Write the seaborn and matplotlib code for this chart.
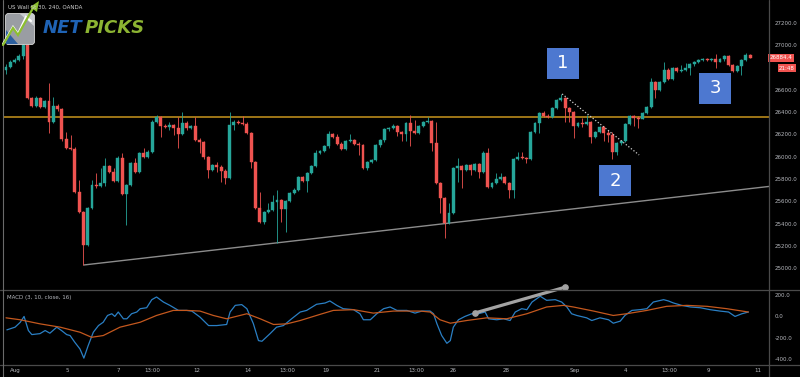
import numpy as np
import pandas as pd
import matplotlib
matplotlib.use("Agg")
import matplotlib.pyplot as plt
from matplotlib.patches import Rectangle, FancyBboxPatch, Polygon
import seaborn as sns

# US Wall St 30, 240 min candles (OANDA)
first_open = 26777
closes = [
    26803, 26848, 26866, 26902, 27000, 26526, 26454, 26526, 26445, 26499,
    26311, 26454, 26427, 26159, 26078, 26069, 25685, 25506, 25210, 25541,
    25747, 25738, 25765, 25917, 25864, 25783, 25989, 25667, 25747, 25944,
    25864, 26034, 25998, 26043, 26311, 26356, 26275, 26266, 26284, 26257,
    26204, 26302, 26257, 26275, 26150, 26132, 25998, 25882, 25926, 25908,
    25873, 25810, 26284, 26311, 26302, 26293, 26213, 25953, 25541, 25416,
    25506, 25524, 25595, 25613, 25532, 25604, 25676, 25703, 25819, 25783,
    25855, 25917, 26034, 26052, 26096, 26204, 26177, 26114, 26069, 26141,
    26150, 26114, 26105, 25899, 25953, 25971, 26105, 26150, 26248, 26257,
    26275, 26222, 26204, 26302, 26231, 26213, 26275, 26311, 26320, 26123,
    25765, 25631, 25407, 25497, 25899, 25917, 25882, 25926, 25882, 25935,
    25864, 26034, 25729, 25765, 25801, 25819, 25765, 25703, 25980, 25998,
    25989, 25980, 26222, 26302, 26392, 26365, 26356, 26436, 26508, 26526,
    26436, 26401, 26275, 26302, 26293, 26311, 26177, 26222, 26266, 26213,
    26195, 26043, 26123, 26141, 26293, 26365, 26347, 26338, 26392, 26445,
    26669, 26598, 26669, 26777, 26696, 26794, 26768, 26777, 26794, 26830,
    26848, 26866, 26875, 26866, 26875, 26848, 26875, 26902, 26821, 26768,
    26812, 26866, 26911, 26884,
]
highs = [
    26830, 26866, 26884, 26920, 27045, 27027, 26535, 26544, 26535, 26508,
    26660, 26535, 26472, 26436, 26222, 26195, 26087, 25792, 25515, 25550,
    25792, 25855, 25899, 25989, 25926, 25899, 26007, 26034, 25756, 25953,
    25989, 26043, 26078, 26061, 26329, 26374, 26365, 26293, 26311, 26293,
    26356, 26401, 26320, 26284, 26356, 26168, 26141, 26007, 25935, 25953,
    25926, 25891, 26401, 26329, 26329, 26365, 26311, 26222, 25962, 25685,
    25515, 25586, 25658, 25703, 25622, 25613, 25685, 25720, 25828, 25828,
    25864, 25926, 26061, 26061, 26105, 26231, 26213, 26204, 26132, 26150,
    26204, 26159, 26132, 26114, 25962, 25980, 26114, 26159, 26257, 26266,
    26293, 26284, 26231, 26311, 26374, 26329, 26284, 26320, 26356, 26329,
    26311, 25774, 25640, 25586, 25908, 25989, 25926, 25935, 25935, 25944,
    25944, 26052, 26078, 25774, 25855, 25855, 25828, 25774, 25989, 26043,
    26043, 25998, 26231, 26311, 26401, 26410, 26383, 26445, 26517, 26562,
    26535, 26445, 26410, 26311, 26347, 26374, 26320, 26231, 26275, 26275,
    26240, 26222, 26132, 26150, 26302, 26374, 26374, 26365, 26401, 26454,
    26705, 26678, 26678, 26848, 26794, 26803, 26803, 26821, 26839, 26839,
    26857, 26875, 26884, 26884, 26884, 26920, 26884, 26911, 26911, 26830,
    26821, 26875, 26929, 26920,
]
lows = [
    26741, 26794, 26839, 26857, 26875, 26517, 26445, 26445, 26436, 26436,
    26213, 26302, 26410, 26141, 26069, 26061, 25676, 25497, 25031, 25201,
    25532, 25720, 25729, 25738, 25855, 25774, 25774, 25658, 25389, 25738,
    25855, 25855, 25989, 25989, 26034, 26302, 26177, 26257, 26240, 26195,
    26078, 26195, 26240, 26248, 26141, 26034, 25980, 25810, 25873, 25864,
    25774, 25756, 25801, 26240, 26293, 26284, 26204, 25899, 25532, 25407,
    25398, 25497, 25515, 25228, 25416, 25327, 25595, 25667, 25694, 25774,
    25685, 25846, 25908, 26025, 26043, 26078, 26168, 26105, 26061, 26061,
    26132, 26105, 26016, 25891, 25882, 25944, 25962, 26087, 26132, 26231,
    26248, 26186, 26141, 26141, 26096, 26204, 26204, 26266, 26302, 26052,
    25756, 25497, 25273, 25398, 25488, 25774, 25720, 25873, 25837, 25873,
    25810, 25855, 25720, 25720, 25756, 25792, 25756, 25631, 25631, 25971,
    25980, 25944, 25971, 26213, 26213, 26356, 26347, 26347, 26427, 26499,
    26311, 26311, 26168, 26266, 26266, 26284, 26123, 26168, 26213, 26141,
    26132, 25980, 26016, 26105, 26132, 26284, 26275, 26257, 26338, 26383,
    26436, 26526, 26589, 26660, 26687, 26687, 26759, 26759, 26768, 26732,
    26812, 26839, 26857, 26857, 26857, 26794, 26848, 26857, 26812, 26759,
    26759, 26732, 26857, 26880,
]

macd_x = [0.2, 2.1, 3.3, 4.2, 5.2, 6.0, 7.9, 9.1, 10.2, 11.8, 12.9, 14.1, 14.9,
          16.0, 17.2, 18.1, 19.1, 20.3, 21.5, 22.6, 23.6, 24.6, 25.3, 26.1,
          27.3, 28.1, 29.2, 30.4, 31.2, 32.7, 33.9, 35.0, 36.6, 38.1, 40.1,
          42.0, 43.2, 45.1, 47.1, 49.0, 51.3, 52.1, 53.3, 54.8, 56.0, 57.5,
          58.7, 59.5, 61.4, 62.9, 64.5, 66.4, 68.4, 69.9, 72.2, 74.2, 75.3,
          76.9, 78.4, 80.8, 82.3, 83.1, 84.7, 86.2, 87.8, 89.3, 90.9, 91.6,
          93.2, 95.1, 96.7, 98.6, 99.4, 100.2, 101.3, 102.5, 103.3, 104.0,
          105.2, 106.7, 108.3, 109.8, 111.4, 112.2, 114.1, 115.7, 117.2,
          118.4, 119.9, 121.1, 122.3, 124.2, 125.7, 127.7, 129.2, 130.4,
          131.5, 132.7, 135.0, 136.2, 138.1, 140.1, 141.2, 142.8, 143.9,
          145.5, 147.4, 149.0, 150.5, 152.9, 154.0, 155.2, 157.1, 159.1,
          161.4, 163.7, 166.0, 168.0, 169.5, 171.1, 172.6]
macd_v = [-125, -100, -55, 0, -131, -169, -160, -131, -156, -100, -131, -169,
          -178, -241, -303, -388, -272, -147, -85, -54, 9, 25, 0, 41, -22,
          -22, 25, 41, 72, 81, 156, 181, 134, 103, 56, 56, 50, -6, -85, -85,
          -75, 41, 103, 110, 72, -66, -225, -231, -160, -100, -85, -22, 41,
          56, 113, 125, 144, 103, 72, 63, 25, -31, -31, 25, 72, 88, 56, 56,
          56, 31, 50, 50, 25, -69, -178, -250, -225, -100, -31, 0, 25, 25,
          41, -22, -31, -22, -38, 41, 72, 63, 134, 188, 150, 156, 134, 88,
          25, 9, -13, -38, -13, -31, -63, -44, 9, 56, 63, 72, 134, 156, 144,
          125, 103, 88, 81, 63, 50, 41, 0, 25, 41]
signal_x = [0, 3.3, 7.9, 12.6, 17.2, 19.9, 22.6, 26.5, 31.2, 35.0, 38.9, 42.0,
            45.1, 48.2, 51.3, 56.0, 59.1, 62.2, 65.3, 68.4, 73.0, 76.1, 80.8,
            85.4, 90.1, 96.3, 98.6, 100.9, 103.3, 107.1, 111.8, 116.4, 121.1,
            125.7, 129.6, 131.9, 136.6, 141.2, 144.3, 149.0, 153.6, 158.3,
            163.0, 167.6, 172.6]
signal_v = [-13, -31, -69, -100, -147, -194, -178, -100, -54, 9, 56, 56, 50,
            9, -22, 25, -22, -75, -69, -38, 19, 56, 63, 31, 50, 50, 41, -31,
            -63, -38, -13, -22, 25, 88, 103, 88, 50, 9, 25, 56, 94, 103, 94,
            72, 41]

price_ticks = [25000, 25200, 25400, 25600, 25800, 26000, 26200, 26400, 26600,
               26800, 27000, 27200]
hidden_tick = 26800   # sits under the last-price tag in the original
macd_ticks = [200, 0, -200, -400]
date_pos = [2.1, 14.2, 26.0, 34.0, 44.4, 56.3, 65.3, 74.4, 86.3, 95.3, 104.0,
            116.3, 132.3, 144.0, 154.2, 163.3, 174.9]
date_labels = ["Aug", "5", "7", "13:00", "12", "14", "13:00", "19", "21",
               "13:00", "26", "28", "Sep", "4", "13:00", "9", "11"]

resistance = 26360
support_x = [18.1, 177.4]
support_y = [25031, 25734]
pullback_x = [129.3, 147.2]
pullback_y = [26562, 26016]
macd_trend_x = [109.1, 130.0]
macd_trend_y = [33, 272]
marks = ["1", "2", "3"]
mark_x = [129.5, 141.6, 164.9]
mark_y = [26835, 25783, 26611]

UP = "#26a69a"
DOWN = "#ef5350"
TXT = "#b7b9bf"
SEP = "#4a4a4a"

sns.set_theme(style="dark", rc={"axes.facecolor": "black",
                                "figure.facecolor": "black"})
plt.rcParams["font.family"] = ["DejaVu Sans"]

fig = plt.figure(figsize=(8, 3.77), dpi=100)
ax = fig.add_axes([3 / 800, 1 - 290 / 377, 766 / 800, 290 / 377])
ax2 = fig.add_axes([3 / 800, 1 - 365 / 377, 766 / 800, 75 / 377])

df = pd.DataFrame({"close": closes, "high": highs, "low": lows})
df["open"] = [first_open] + closes[:-1]
df["i"] = np.arange(len(df))
cols = np.where(df["close"] >= df["open"], UP, DOWN)

ax.vlines(df["i"], df["low"], df["high"], colors=cols, lw=0.6, zorder=2)
ax.bar(df["i"], df["close"] - df["open"], bottom=df["open"], width=0.68,
       color=cols, edgecolor=cols, linewidth=0.3, zorder=3)

ax.axhline(resistance, color="#c8961e", lw=1.1, zorder=1)
ax.plot(support_x, support_y, color="#8c8c8c", lw=1.0, zorder=1)
ax.plot(pullback_x, pullback_y, color="#cfcfcf", lw=0.9,
        ls=(0, (1, 1.6)), zorder=4)

for lab, mx, my in zip(marks, mark_x, mark_y):
    ax.add_patch(Rectangle((mx - 3.72, my - 138), 7.44, 277,
                           facecolor="#4d78d0", edgecolor="none", zorder=5))
    ax.text(mx, my, lab, color="white", fontsize=13, ha="center",
            va="center", zorder=6)

ax.set_xlim(-0.7, 177.4)
ax.set_ylim(24807, 27403)
ax.yaxis.tick_right()
ax.set_yticks(price_ticks)
ax.set_yticklabels(["" if v == hidden_tick else f"{v:.1f}"
                    for v in price_ticks])
ax.set_xticks([])
ax.tick_params(axis="y", length=0, pad=4, labelsize=4, labelcolor=TXT)
for s in ax.spines.values():
    s.set_visible(False)
ax.grid(False)

# last price tag and bar countdown
ax.text(1.001, closes[-1], "26884.4", transform=ax.get_yaxis_transform(),
        fontsize=4, color="white", va="center", ha="left", clip_on=False,
        zorder=7, bbox=dict(boxstyle="square,pad=0.3", fc="#f05350",
                            ec="none"))
ax.annotate("21:48", xy=(1.0, closes[-1]), xycoords=ax.get_yaxis_transform(),
            xytext=(7, -7.3), textcoords="offset points", fontsize=4,
            color="white", va="center", ha="left", annotation_clip=False,
            zorder=7, bbox=dict(boxstyle="square,pad=0.22", fc="#f05350",
                                ec="none"))

# MACD pane
sns.lineplot(x=macd_x, y=macd_v, ax=ax2, color="#2a7fc4", lw=0.9,
             estimator=None, sort=False)
sns.lineplot(x=signal_x, y=signal_v, ax=ax2, color="#c4581e", lw=0.9,
             estimator=None, sort=False)
ax2.plot(macd_trend_x, macd_trend_y, color="#a3a3a3", lw=2.3,
         solid_capstyle="round", marker="o", ms=3.8, clip_on=False, zorder=8)
ax2.set_xlim(-0.7, 177.4)
ax2.set_ylim(-452, 246)
ax2.yaxis.tick_right()
ax2.set_yticks(macd_ticks)
ax2.set_yticklabels([f"{v:.1f}" for v in macd_ticks])
ax2.set_xticks(date_pos)
ax2.set_xticklabels(date_labels)
ax2.tick_params(length=0, labelsize=4, labelcolor=TXT)
ax2.tick_params(axis="y", pad=4)
ax2.tick_params(axis="x", pad=2.5)
ax2.set_xlabel("")
ax2.set_ylabel("")
for s in ax2.spines.values():
    s.set_visible(False)
ax2.grid(False)

# overlay for chart chrome (pixel coordinates)
ov = fig.add_axes([0, 0, 1, 1], zorder=10)
ov.set_xlim(0, 800)
ov.set_ylim(377, 0)
ov.axis("off")
ov.patch.set_alpha(0)
ov.plot([0, 800], [289.5, 289.5], color=SEP, lw=0.9)
ov.plot([0, 800], [365, 365], color=SEP, lw=0.9)
ov.plot([769, 769], [0, 377], color=SEP, lw=0.9)
ov.plot([3, 3], [0, 377], color="#6a6a6a", lw=0.8)

ov.text(7, 297, "MACD (3, 10, close, 16)", fontsize=4, color=TXT,
        va="center", ha="left")
ov.text(8, 7, "US Wall St 30, 240, OANDA", fontsize=4, color="#d0d0d0",
        va="center", ha="left")

# NETPICKS logo
ov.add_patch(FancyBboxPatch((6, 14), 28, 30,
                            boxstyle="round,pad=0.5,rounding_size=3",
                            fc="#9a9da3", ec="#d8d8d8", lw=0.6))
ov.add_patch(Polygon([(6, 30), (6, 44), (18, 44)], closed=True,
                     fc="#2c5f9e", ec="none"))
ov.add_patch(Polygon([(20, 14), (34, 14), (34, 26)], closed=True,
                     fc="#c9ccd0", ec="none"))
ov.plot([3, 13, 18, 26, 31], [44, 27, 34, 17, 21], color="white", lw=1.6,
        solid_joinstyle="miter")
ov.plot([3, 13, 18, 33], [45, 28, 35, 8], color="#8cbf2f", lw=1.6,
        solid_joinstyle="miter")
ov.add_patch(Polygon([(39, 1), (30, 7), (37, 12)], closed=True,
                     fc="#8cbf2f", ec="none"))
net = ov.text(43, 28, "NET", fontsize=13, fontweight="bold",
              fontstyle="italic", color="#1f63b5", va="center", ha="left")
ov.annotate("PICKS", xy=(1, 0.5), xycoords=net, xytext=(1.5, 0),
            textcoords="offset points", fontsize=13, fontweight="bold",
            fontstyle="italic", color="#8cb432", va="center", ha="left")

fig.savefig("out.png", dpi=100, facecolor="black")
